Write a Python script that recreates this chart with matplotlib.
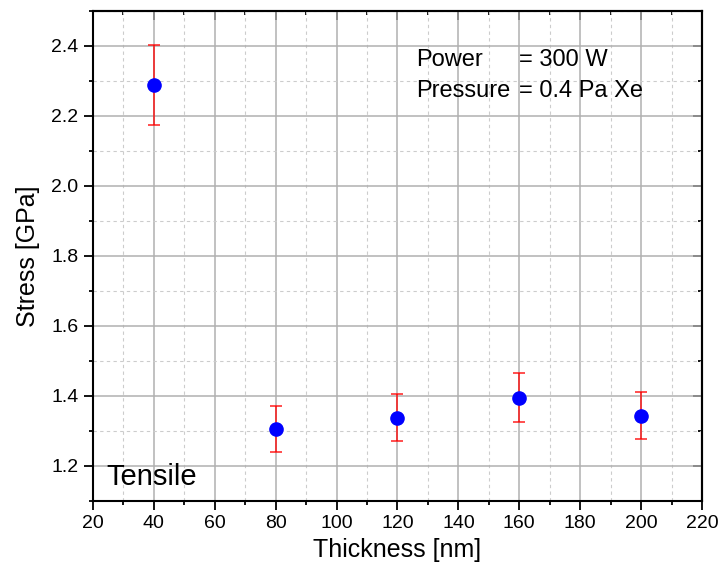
import matplotlib as mpl
mpl.use('Agg')
import matplotlib.pyplot as plt
from matplotlib.ticker import MultipleLocator

plt.rcParams['font.family'] = ['Liberation Sans', 'DejaVu Sans']

# thickness [nm] vs stress [GPa]
thickness = [40, 80, 120, 160, 200]
stress = [2.288, 1.306, 1.337, 1.395, 1.343]
stress_err = [0.115, 0.066, 0.067, 0.070, 0.067]

fig = plt.figure(figsize=(7.19, 5.67), dpi=100)
ax = fig.add_axes([0.1293, 0.1169, 0.8471, 0.8637])

ax.errorbar(thickness, stress, yerr=stress_err, fmt='none', ecolor='red',
            alpha=0.75, elinewidth=1.3, capsize=4, capthick=1.3, zorder=3)
ax.plot(thickness, stress, 'o', color='#0000ff', markersize=9.5, zorder=4)

ax.set_xlim(20, 220)
ax.set_ylim(1.1, 2.5)
ax.xaxis.set_major_locator(MultipleLocator(20))
ax.xaxis.set_minor_locator(MultipleLocator(10))
ax.yaxis.set_major_locator(MultipleLocator(0.2))
ax.yaxis.set_minor_locator(MultipleLocator(0.1))
ax.yaxis.set_major_formatter(mpl.ticker.FormatStrFormatter('%.1f'))

ax.grid(which='major', color='#b0b0b0', linewidth=1.1, linestyle='-', zorder=0)
ax.grid(which='minor', color='#cccccc', linewidth=0.8, linestyle=(0, (3, 3)), zorder=0)
ax.set_axisbelow(True)

for s in ax.spines.values():
    s.set_linewidth(1.5)

ax.tick_params(which='both', direction='out', top=False, right=False,
               width=1.3, labelsize=14, pad=4)
ax.tick_params(which='major', length=6.5)
ax.tick_params(which='minor', length=3.2)

# inward ticks on top and right
ax2 = ax.secondary_xaxis('top')
ax2.xaxis.set_major_locator(MultipleLocator(20))
ax2.xaxis.set_minor_locator(MultipleLocator(10))
ax2.tick_params(which='both', direction='in', width=1.3, labeltop=False)
ax2.tick_params(which='major', length=6.5)
ax2.tick_params(which='minor', length=3.2)
ax3 = ax.secondary_yaxis('right')
ax3.yaxis.set_major_locator(MultipleLocator(0.2))
ax3.yaxis.set_minor_locator(MultipleLocator(0.1))
ax3.tick_params(which='both', direction='in', width=1.3, labelright=False)
ax3.tick_params(which='major', length=6.5)
ax3.tick_params(which='minor', length=3.2)
for s in list(ax2.spines.values()) + list(ax3.spines.values()):
    s.set_linewidth(1.5)

ax.set_xlabel('Thickness [nm]', fontsize=18, labelpad=4)
ax.set_ylabel('Stress [GPa]', fontsize=18, labelpad=8)

ax.text(126, 2.344, 'Power', fontsize=17)
ax.text(160, 2.344, '= 300 W', fontsize=17)
ax.text(126, 2.253, 'Pressure', fontsize=17)
ax.text(160, 2.253, '= 0.4 Pa Xe', fontsize=17)
ax.text(24.3, 1.146, 'Tensile', fontsize=21)

plt.savefig('out.png', dpi=100)
plt.close()
